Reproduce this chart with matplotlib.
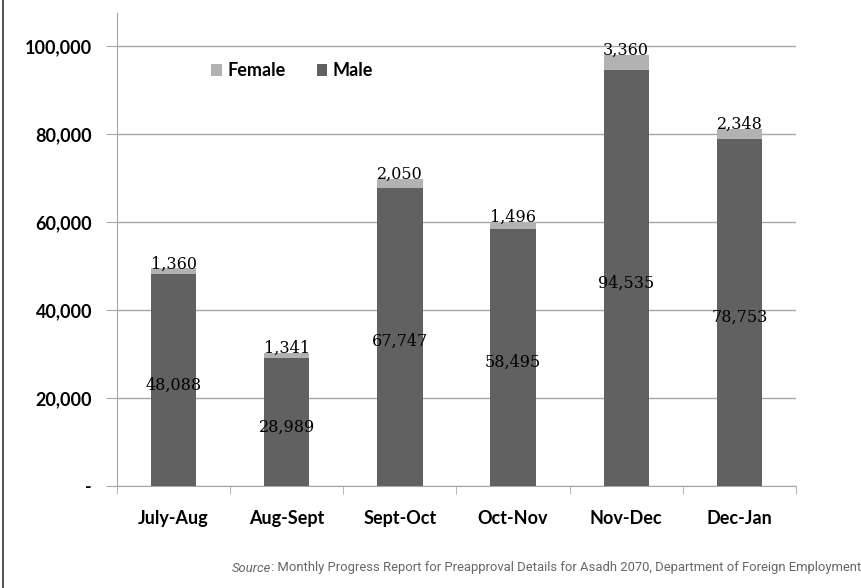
import numpy as np
import matplotlib.pyplot as plt
from matplotlib.lines import Line2D

# =========================
# DATA
# =========================
periods = ["July-Aug", "Aug-Sept", "Sept-Oct", "Oct-Nov", "Nov-Dec", "Dec-Jan"]
male = [48088, 28989, 67747, 58495, 94535, 78753]
female = [1360, 1341, 2050, 1496, 3360, 2348]

yticks = [0, 20000, 40000, 60000, 80000, 100000]
ytick_labels = ["-", "20,000", "40,000", "60,000", "80,000", "100,000"]

male_color = "#616161"
female_color = "#b2b2b2"
grid_color = "#a6a6a6"

sans = ["Lato", "DejaVu Sans"]
serif = ["DejaVu Serif"]

# =========================
# FIGURE
# =========================
fig = plt.figure(figsize=(8.62, 5.88), dpi=100)
ax = fig.add_axes([117 / 862, 1 - 486 / 588, (796 - 117) / 862, (486 - 13) / 588])

x = np.arange(len(periods))
bw = 0.4
ax.bar(x, male, bw, color=male_color, label="Male", zorder=3)
ax.bar(x, female, bw, bottom=male, color=female_color, label="Female", zorder=3)

for xi, m, f in zip(x, male, female):
    ax.text(xi, m / 2 - 1100, f"{m:,}", ha="center", va="center",
            fontsize=11.5, family=serif, color="#000000", zorder=4)
    ax.text(xi, m + f - 900, f"{f:,}", ha="center", va="bottom",
            fontsize=11.5, family=serif, color="#000000", zorder=4)

ax.set_xlim(-0.5, len(periods) - 0.5)
ax.set_ylim(0, 107500)

ax.set_yticks(yticks)
ax.set_yticklabels(ytick_labels, fontsize=13, family=sans, fontweight="bold")
ax.yaxis.grid(True, color=grid_color, linewidth=1, zorder=0)

ax.set_xticks(x)
ax.set_xticklabels(periods, fontsize=13, family=sans, fontweight="bold")
ax.set_xticks(np.arange(len(periods) + 1) - 0.5, minor=True)
ax.tick_params(axis="x", which="major", length=0, pad=17)
ax.tick_params(axis="x", which="minor", length=6, color=grid_color, direction="out")
ax.tick_params(axis="y", length=8, color=grid_color, direction="out", pad=10)

for s in ["top", "right"]:
    ax.spines[s].set_visible(False)
for s in ["left", "bottom"]:
    ax.spines[s].set_color(grid_color)

handles, labels = ax.get_legend_handles_labels()
ax.legend(handles[::-1], labels[::-1], loc="upper left", bbox_to_anchor=(0.115, 0.93),
          ncol=2, frameon=False, handlelength=0.6, handleheight=0.6,
          handletextpad=0.3, columnspacing=1.7,
          prop={"family": sans, "size": 13, "weight": "bold"})

# left border line of the original frame
fig.add_artist(Line2D([3.5 / 862, 3.5 / 862], [0, 1], color="#444444", linewidth=1.3))

# source note: italic "Source" followed by the rest
src_y = 1 - 568 / 588
t1 = fig.text(232 / 862, src_y, "Source", fontsize=9.4, style="italic",
              color="#666666", family=["Roboto", "DejaVu Sans"], va="center")
fig.canvas.draw()
bb = t1.get_window_extent()
fig.text(bb.x1 / fig.bbox.width, src_y,
         ": Monthly Progress Report for Preapproval Details for Asadh 2070, Department of Foreign Employment",
         fontsize=9.4, color="#666666", family=["Roboto", "DejaVu Sans"], va="center")

plt.savefig("out.png", dpi=100)
plt.close()
